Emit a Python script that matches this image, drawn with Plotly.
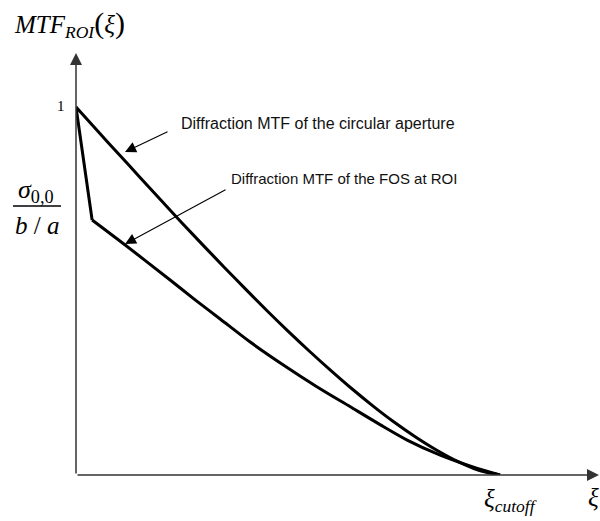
import plotly.graph_objects as go

# ---- data ----
xi_circ = [0, 0.05, 0.10, 0.15, 0.20, 0.25, 0.30, 0.35, 0.40, 0.45, 0.50,
           0.55, 0.60, 0.65, 0.70, 0.75, 0.80, 0.85, 0.90, 0.95, 1.0]
mtf_circ = [1.0, 0.936, 0.873, 0.810, 0.747, 0.685, 0.624, 0.564, 0.505, 0.447, 0.391,
            0.337, 0.285, 0.235, 0.188, 0.144, 0.104, 0.068, 0.037, 0.013, 0.0]

# FOS MTF: steep initial drop to the kink, then a smooth curve to cutoff
xi_fos_drop = [0, 0.038]
mtf_fos_drop = [1.0, 0.693]
xi_fos = [0.038, 0.116, 0.222, 0.281, 0.340, 0.410, 0.489, 0.568, 0.646,
          0.717, 0.781, 0.859, 0.936, 1.0]
mtf_fos = [0.693, 0.625, 0.530, 0.476, 0.424, 0.362, 0.299, 0.240, 0.186,
           0.137, 0.095, 0.054, 0.022, 0.0]

label_circ = "Diffraction MTF of the circular aperture"
label_fos = "Diffraction MTF of the FOS at ROI"

# ---- layout geometry (pixels) ----
W, H = 600, 521
ML, MR, MT, MB = 76, 0, 0, 46
PW, PH = W - ML - MR, H - MT - MB
X0PX, X1PX = 76, 500   # pixel of xi=0 and xi=cutoff
Y0PX, Y1PX = 475, 107  # pixel of mtf=0 and mtf=1
sx = (X1PX - X0PX)
sy = (Y0PX - Y1PX)
xrange = [0, PW / sx]
yrange = [0, PH / sy]

def dx(px):
    return (px - X0PX) / sx

def dy(py):
    return (Y0PX - py) / sy

def paperx(px):
    return (px - ML) / PW

def papery(py):
    return (H - MB - py) / PH

fig = go.Figure()
fig.add_trace(go.Scatter(x=xi_circ, y=mtf_circ, mode="lines",
                         line=dict(color="black", width=3, shape="spline", smoothing=0.8),
                         hoverinfo="skip"))
fig.add_trace(go.Scatter(x=xi_fos_drop, y=mtf_fos_drop, mode="lines",
                         line=dict(color="black", width=3), hoverinfo="skip"))
fig.add_trace(go.Scatter(x=xi_fos, y=mtf_fos, mode="lines",
                         line=dict(color="black", width=3, shape="spline", smoothing=0.8),
                         hoverinfo="skip"))

ann = []
# axes with arrows
ann.append(dict(x=0, y=dy(53), ax=0, ay=0, xref="x", yref="y", axref="x", ayref="y",
                text="", showarrow=True, arrowhead=2, arrowsize=1.6, arrowwidth=1.5,
                arrowcolor="#333333", standoff=0, startstandoff=0))
ann.append(dict(x=dx(599), y=0, ax=0, ay=0, xref="x", yref="y", axref="x", ayref="y",
                text="", showarrow=True, arrowhead=2, arrowsize=1.6, arrowwidth=1.5,
                arrowcolor="#333333", standoff=0, startstandoff=0))
# pointer arrows
ann.append(dict(x=dx(125), y=dy(152), ax=dx(169), ay=dy(131), xref="x", yref="y",
                axref="x", ayref="y", text="", showarrow=True, arrowhead=2,
                arrowsize=2, arrowwidth=1.1, arrowcolor="black", standoff=0))
ann.append(dict(x=dx(125), y=dy(244), ax=dx(227), ay=dy(189), xref="x", yref="y",
                axref="x", ayref="y", text="", showarrow=True, arrowhead=2,
                arrowsize=2, arrowwidth=1.1, arrowcolor="black", standoff=0))
# labels
ann.append(dict(x=dx(179), y=dy(123), xref="x", yref="y", text=label_circ,
                showarrow=False, xanchor="left", yanchor="middle",
                font=dict(family="Liberation Sans, Arial", size=16, color="#111111")))
ann.append(dict(x=dx(229), y=dy(178), xref="x", yref="y", text=label_fos,
                showarrow=False, xanchor="left", yanchor="middle",
                font=dict(family="Liberation Sans, Arial", size=15, color="#111111")))

serif = "Liberation Serif, Times New Roman"
# title
ann.append(dict(x=paperx(12), y=papery(24), xref="paper", yref="paper",
                text="<i>MTF</i><sub><i>ROI</i></sub><span style='font-size:30px'>(</span><i>ξ</i><span style='font-size:30px'>)</span>",
                showarrow=False, xanchor="left", yanchor="middle",
                font=dict(family=serif, size=25, color="black")))
# tick "1"
ann.append(dict(x=paperx(67), y=papery(106), xref="paper", yref="paper", text="1",
                showarrow=False, xanchor="right", yanchor="middle",
                font=dict(family=serif, size=15, color="black")))
# fraction sigma_{0,0} / (b/a)
ann.append(dict(x=paperx(36), y=papery(191), xref="paper", yref="paper",
                text="<i>σ</i><sub>0,0</sub>", showarrow=False,
                xanchor="center", yanchor="middle",
                font=dict(family=serif, size=26, color="black")))
ann.append(dict(x=paperx(37), y=papery(225), xref="paper", yref="paper",
                text="<i>b</i> / <i>a</i>", showarrow=False,
                xanchor="center", yanchor="middle",
                font=dict(family=serif, size=25, color="black")))
# xi labels
ann.append(dict(x=paperx(482), y=papery(500), xref="paper", yref="paper",
                text="<i>ξ</i><sub><i>cutoff</i></sub>", showarrow=False,
                xanchor="left", yanchor="middle",
                font=dict(family=serif, size=25, color="black")))
ann.append(dict(x=paperx(586), y=papery(497), xref="paper", yref="paper",
                text="<i>ξ</i>", showarrow=False,
                xanchor="left", yanchor="middle",
                font=dict(family=serif, size=25, color="black")))

shapes = [dict(type="line", xref="paper", yref="paper",
               x0=paperx(13), x1=paperx(61), y0=papery(206), y1=papery(206),
               line=dict(color="black", width=1.3))]

fig.update_layout(
    width=W, height=H,
    margin=dict(l=ML, r=MR, t=MT, b=MB, pad=0),
    paper_bgcolor="white", plot_bgcolor="white",
    showlegend=False,
    xaxis=dict(range=xrange, visible=False, fixedrange=True),
    yaxis=dict(range=yrange, visible=False, fixedrange=True),
    annotations=ann, shapes=shapes,
)
fig.write_html("out.html")
